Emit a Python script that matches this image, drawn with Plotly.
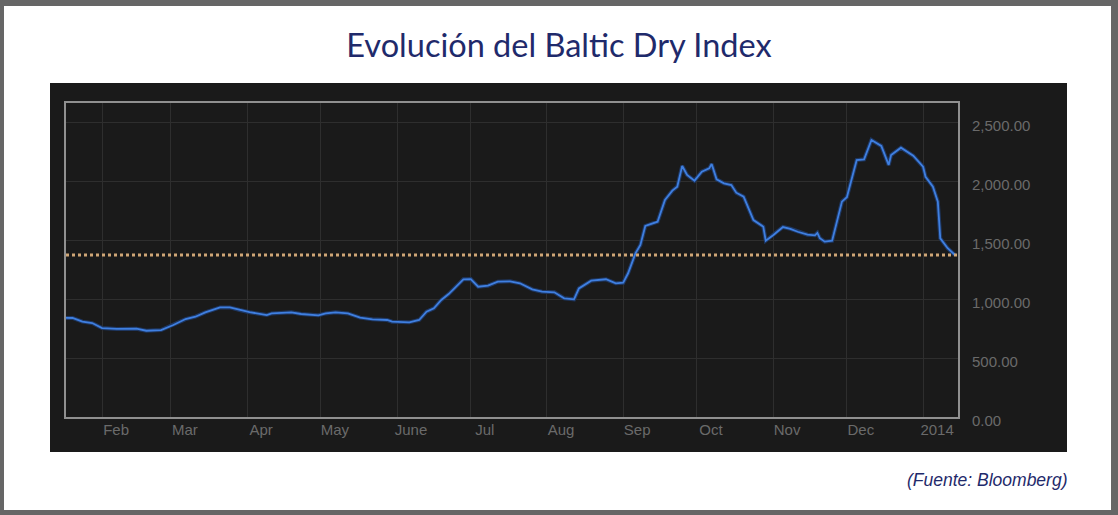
import plotly.graph_objects as go

# ---- data ----
dates = [
    "2013-01-17", "2013-01-20", "2013-01-24", "2013-01-28", "2013-02-01", "2013-02-07",
    "2013-02-15", "2013-02-19", "2013-02-25", "2013-03-02", "2013-03-07", "2013-03-11",
    "2013-03-15", "2013-03-21", "2013-03-25", "2013-03-29", "2013-04-02", "2013-04-09",
    "2013-04-11", "2013-04-19", "2013-04-23", "2013-04-30", "2013-05-03", "2013-05-07",
    "2013-05-12", "2013-05-17", "2013-05-22", "2013-05-28", "2013-05-30", "2013-06-06",
    "2013-06-10", "2013-06-13", "2013-06-16", "2013-06-19", "2013-06-22", "2013-06-28",
    "2013-07-01", "2013-07-04", "2013-07-08", "2013-07-12", "2013-07-17", "2013-07-21",
    "2013-07-26", "2013-07-30", "2013-08-04", "2013-08-08", "2013-08-12", "2013-08-14",
    "2013-08-19", "2013-08-25", "2013-08-29", "2013-09-01", "2013-09-03", "2013-09-06",
    "2013-09-08", "2013-09-10", "2013-09-15", "2013-09-18", "2013-09-21", "2013-09-23",
    "2013-09-25", "2013-09-27", "2013-09-30", "2013-10-03", "2013-10-06", "2013-10-07",
    "2013-10-09", "2013-10-12", "2013-10-15", "2013-10-17", "2013-10-20", "2013-10-24",
    "2013-10-28", "2013-10-29", "2013-11-01", "2013-11-05", "2013-11-08", "2013-11-11",
    "2013-11-15", "2013-11-18", "2013-11-19", "2013-11-20", "2013-11-22", "2013-11-25",
    "2013-11-29", "2013-12-01", "2013-12-05", "2013-12-08", "2013-12-11", "2013-12-15",
    "2013-12-18", "2013-12-19", "2013-12-23", "2013-12-28", "2014-01-01", "2014-01-02",
    "2014-01-05", "2014-01-07", "2014-01-08", "2014-01-11", "2014-01-14",
]
bdi_values = [
    840, 839, 808, 796, 754, 746,
    748, 731, 737, 780, 830, 850,
    887, 929, 929, 907, 888, 864,
    878, 887, 873, 862, 878, 887,
    878, 842, 828, 822, 808, 802,
    822, 892, 921, 992, 1042, 1167,
    1169, 1104, 1113, 1147, 1150, 1133,
    1082, 1062, 1057, 1006, 997, 1090,
    1155, 1167, 1133, 1138, 1218, 1387,
    1458, 1619, 1655, 1839, 1918, 1952,
    2127, 2051, 2003, 2079, 2107, 2144,
    2014, 1980, 1966, 1901, 1867, 1669,
    1613, 1494, 1540, 1610, 1595, 1570,
    1545, 1540, 1560, 1515, 1486, 1494,
    1825, 1862, 2178, 2184, 2347, 2297,
    2136, 2220, 2282, 2214, 2121, 2036,
    1952, 1825, 1514, 1430, 1373,
]
reference_level = 1373

month_ticks = [
    "2013-02-01", "2013-03-01", "2013-04-01", "2013-05-01", "2013-06-01", "2013-07-01",
    "2013-08-01", "2013-09-01", "2013-10-01", "2013-11-01", "2013-12-01", "2014-01-01",
]
month_labels = ["Feb", "Mar", "Apr", "May", "June", "Jul",
                "Aug", "Sep", "Oct", "Nov", "Dec", "2014"]
y_ticks = [0, 500, 1000, 1500, 2000, 2500]

title_text = "Evolución del Baltic Dry Index"
source_text = "(Fuente: Bloomberg)"

# ---- figure ----
W, H = 1118, 515
L, R, T, B = 66, 958, 103, 417
pw, ph = R - L, B - T

def px_x(p):
    return (p - L) / pw

def px_y(p):
    return (B - p) / ph

DARK = "#1a1a1a"
X_START, X_END = "2013-01-17 08:00", "2014-01-15 05:00"
fig = go.Figure()

fig.add_trace(go.Scatter(
    x=dates, y=bdi_values, mode="lines",
    line=dict(color="#1e3762", width=4), hoverinfo="skip", showlegend=False,
))
fig.add_trace(go.Scatter(
    x=dates, y=bdi_values, mode="lines",
    line=dict(color="#3f7fe0", width=1.8), showlegend=False,
))
fig.add_trace(go.Scatter(
    x=[X_START, X_END], y=[reference_level, reference_level],
    mode="lines", line=dict(color="#cfa676", width=3, dash="3px,3px"),
    hoverinfo="skip", showlegend=False,
))

shapes = [
    # white card
    dict(type="rect", xref="paper", yref="paper",
         x0=px_x(4), x1=px_x(1111), y0=px_y(510), y1=px_y(6),
         fillcolor="white", line=dict(width=0), layer="below"),
    # dark panel
    dict(type="rect", xref="paper", yref="paper",
         x0=px_x(50), x1=px_x(1067), y0=px_y(452), y1=px_y(83),
         fillcolor=DARK, line=dict(width=0), layer="below"),
]

fig.update_layout(
    width=W, height=H,
    margin=dict(l=L, r=W - R, t=T, b=H - B, pad=0),
    paper_bgcolor="#666666",
    plot_bgcolor=DARK,
    shapes=shapes,
    showlegend=False,
    title=dict(
        text=title_text, x=0.5, xref="container", xanchor="center",
        y=1 - 46 / H, yref="container", yanchor="middle",
        font=dict(family="Lato", size=32.5, color="#1f2a6b"),
    ),
    annotations=[
        dict(text="<i>" + source_text + "</i>", xref="paper", yref="paper",
             x=px_x(1070), y=px_y(480), xanchor="right", yanchor="middle",
             showarrow=False,
             font=dict(family="Liberation Sans", size=17.5, color="#1f2a6b")),
    ],
    xaxis=dict(
        type="date",
        range=[X_START, X_END],
        tickvals=month_ticks, ticktext=month_labels,
        ticklabelshift=14, ticks="", ticklabelstandoff=-2,
        showgrid=True, gridcolor="#2e2e2e", gridwidth=1,
        showline=True, linecolor="#909090", linewidth=2, mirror=True,
        zeroline=False,
        tickfont=dict(family="Liberation Sans", size=15, color="#6a6a6a"),
    ),
    yaxis=dict(
        range=[0, 2661], side="right",
        tickvals=y_ticks, tickformat=",.2f",
        ticks="", ticklabelstandoff=9, ticklabelshift=4,
        showgrid=True, gridcolor="#2e2e2e", gridwidth=1,
        showline=True, linecolor="#909090", linewidth=2, mirror=True,
        zeroline=False,
        tickfont=dict(family="Liberation Sans", size=15, color="#6a6a6a"),
    ),
)

fig.write_html(
    "out.html",
    config={"displayModeBar": False},
    post_script="document.body.style.margin='0';",
)
